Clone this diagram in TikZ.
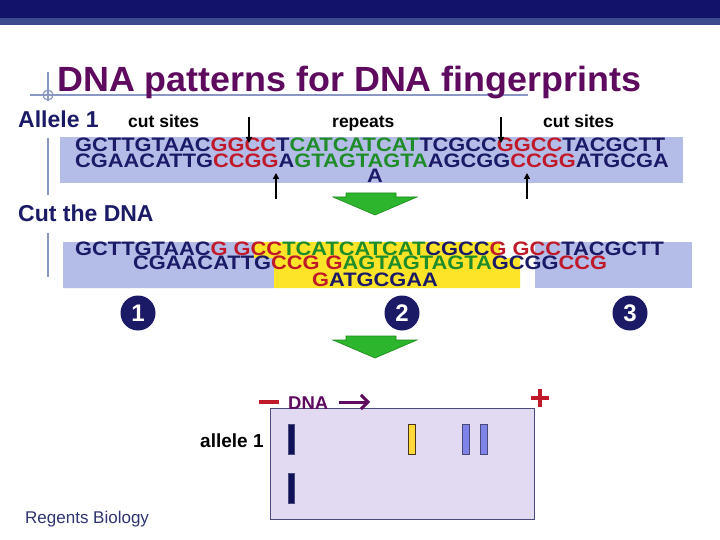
\documentclass[tikz,border=0pt]{standalone}
\usepackage{fontspec}
\setmainfont{Liberation Sans}
\usetikzlibrary{arrows.meta}
\definecolor{nv}{HTML}{1A1A66}
\definecolor{rd}{HTML}{C01A2A}
\definecolor{gr}{HTML}{1E8C28}
\definecolor{ttl}{HTML}{5E0A5E}
\definecolor{barD}{HTML}{12126A}
\definecolor{barL}{HTML}{3E4A8E}
\definecolor{rule}{HTML}{8A96C4}
\definecolor{dnabg}{HTML}{B4BCE8}
\definecolor{yel}{HTML}{FDE428}
\definecolor{garr}{HTML}{2DB52D}
\definecolor{garrE}{HTML}{1A8A1A}
\definecolor{gel}{HTML}{E2DAF2}
\definecolor{gelE}{HTML}{4A4A7A}
\definecolor{bandN}{HTML}{101058}
\definecolor{bandY}{HTML}{FFD93A}
\definecolor{bandB}{HTML}{7F85E8}
\definecolor{reg}{HTML}{2E3570}
\newcommand\sqN[1]{\textcolor{nv}{#1}}
\newcommand\sqR[1]{\textcolor{rd}{#1}}
\newcommand\sqG[1]{\textcolor{gr}{#1}}
\newcommand\sqline[1]{\scalebox{1.12}[1]{#1}}
\begin{document}
\begin{tikzpicture}[x=1pt,y=-1pt,
  txt/.style={inner sep=0pt,anchor=base west},
  seq/.style={txt,font=\fontsize{19.5}{20}\selectfont\bfseries},
  head/.style={txt,text=nv,font=\fontsize{23}{24}\selectfont\bfseries},
  small/.style={txt,text=black,font=\fontsize{17.5}{18}\selectfont\bfseries},
  numc/.style={circle,fill=nv,text=white,minimum width=35pt,inner sep=0pt,font=\fontsize{24}{24}\selectfont\bfseries},
  cutarr/.style={line width=2pt,-{Triangle[length=6pt,width=6pt]}},
  bigarr/.style={fill=garr,draw=garrE,line width=0.6pt,line join=miter},
  band/.style={line width=0.8pt}
]
\useasboundingbox (0,0) rectangle (720,540);
\fill[white] (0,0) rectangle (720,540);
% top bar
\fill[barD] (0,0) rectangle (720,18);
\fill[barL] (0,18) rectangle (720,25);
% title
\draw[rule,line width=1.8pt] (30,95) -- (528,95);
\draw[rule,line width=1.2pt] (48,72) -- (48,101);
\draw[rule,line width=1.2pt] (48,95) circle (5);
\node[txt,text=ttl,font=\fontsize{35}{36}\selectfont\bfseries] (title) at (57,92) {\scalebox{1.025}[1]{DNA patterns for DNA fingerprints}};
% left bullet bars
\draw[rule,line width=1.8pt] (48,138) -- (48,195);
\draw[rule,line width=1.8pt] (48,233) -- (48,277);
% Allele 1 section
\node[head] (allele) at (18,128) {Allele 1};
\node[small] (cut1) at (128,128) {cut sites};
\node[small] (rep) at (332,128) {repeats};
\node[small] (cut2) at (543,128) {cut sites};
\fill[dnabg] (60,137) rectangle (683,183);
\node[seq] (s1) at (75,152) {\sqline{\sqN{GCTTGTAAC}\sqR{GGCC}\sqN{T}\sqG{CATCATCAT}\sqN{TCGCC}\sqR{GGCC}\sqN{TACGCTT}}};
\node[seq] (s2) at (75,168) {\sqline{\sqN{CGAACATTG}\sqR{CCGG}\sqN{A}\sqG{GTAGTAGTA}\sqN{AGCGG}\sqR{CCGG}\sqN{ATGCGA}}};
\node[seq,anchor=base,text=nv] (s3) at (375,183) {\sqline{A}};
\coordinate (a1s) at (249,117); \coordinate (a1e) at (249,143);
\coordinate (a2s) at (501,117); \coordinate (a2e) at (501,143);
\coordinate (a3s) at (276,199); \coordinate (a3e) at (276,173);
\coordinate (a4s) at (527,199); \coordinate (a4e) at (527,173);
\draw[cutarr] (a1s) -- (a1e);
\draw[cutarr] (a2s) -- (a2e);
\draw[cutarr] (a3s) -- (a3e);
\draw[cutarr] (a4s) -- (a4e);
% green arrow 1
\draw[bigarr] (346,193) -- (396,193) -- (396,197) -- (417,197) -- (375,215) -- (333,197) -- (346,197) -- cycle;
% Cut the DNA
\node[head] (cutdna) at (18,222) {Cut the DNA};
\fill[dnabg] (63,242) -- (254,242) -- (254,258) -- (274,258) -- (274,288) -- (63,288) -- cycle;
\fill[yel] (254,242) -- (500,242) -- (500,258) -- (520,258) -- (520,288) -- (274,288) -- (274,258) -- (254,258) -- cycle;
\fill[dnabg] (535,242) rectangle (692,288);
\node[seq] (c1) at (75,255) {\sqline{\sqN{GCTTGTAAC}\sqR{G GCC}\sqG{TCATCATCAT}\sqN{CGCC}\sqR{G GCC}\sqN{TACGCTT}}};
\node[seq] (c2) at (133,269) {\sqline{\sqN{CGAACATTG}\sqR{CCG G}\sqG{AGTAGTAGTA}\sqN{GCGG}\sqR{CCG}}};
\node[seq] (c3) at (312,286) {\sqline{\sqR{G}\sqN{ATGCGAA}}};
% numbers
\node[numc] (n1) at (138,313) {1};
\node[numc] (n2) at (402,313) {2};
\node[numc] (n3) at (630,313) {3};
% green arrow 2
\draw[bigarr] (346,336) -- (396,336) -- (396,340) -- (417,340) -- (375,358) -- (333,340) -- (346,340) -- cycle;
% gel
\draw[fill=gel,draw=gelE,line width=0.8pt] (270,408) rectangle (534,519);
\draw[rd,line width=3.5pt] (259,402) -- (279,402);
\node[txt,text=ttl,font=\fontsize{18.5}{19}\selectfont\bfseries] (dna) at (288,409) {DNA};
\coordinate (da1) at (339,402); \coordinate (da2) at (370,402);
\draw[ttl,line width=3pt,-{Straight Barb[length=7pt,width=14pt,line width=3pt]}] (da1) -- (da2);
\draw[rd,line width=3.8pt] (531,398) -- (549,398);
\draw[rd,line width=3.8pt] (540,389) -- (540,407);
\node[txt,text=black,font=\fontsize{19}{20}\selectfont\bfseries] (al1) at (200,447) {allele 1};
\draw[band,fill=bandN,draw=gelE] (288,424) rectangle (294,454);
\draw[band,fill=bandN,draw=gelE] (288,473) rectangle (294,503);
\draw[band,fill=bandY,draw=black!60!brown] (408,424) rectangle (415,454);
\draw[band,fill=bandB,draw=gelE] (462,424) rectangle (469,454);
\draw[band,fill=bandB,draw=gelE] (480,424) rectangle (487,454);
% footer
\node[txt,text=reg,font=\fontsize{17}{18}\selectfont] (foot) at (25,523) {Regents Biology};
\end{tikzpicture}
\end{document}
